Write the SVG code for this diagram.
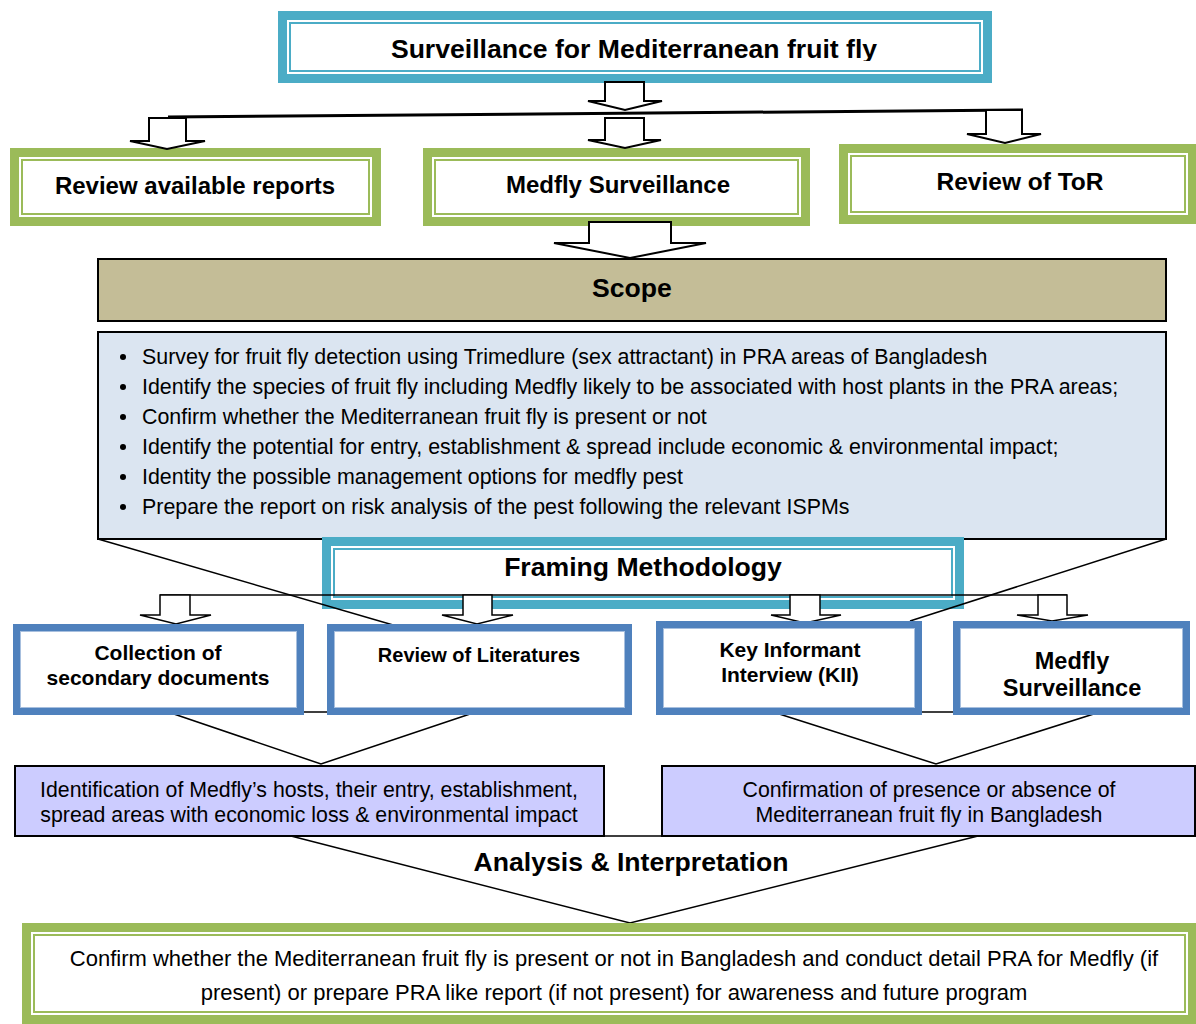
<svg xmlns="http://www.w3.org/2000/svg" width="1196" height="1024" viewBox="0 0 1196 1024">
<style>
.t{font-family:"Liberation Sans",Arial,Helvetica,sans-serif;fill:#000}
.b{font-weight:bold}
.c{text-anchor:middle}
.ln{fill:none;stroke:#000;stroke-width:1.5}
.arr{fill:#fff;stroke:#000;stroke-width:1.5;stroke-linejoin:miter}
.arr2{fill:#fff;stroke:#000;stroke-width:2;stroke-linejoin:miter}
.teal{fill:#4BACC6}
.tealL{fill:none;stroke:#4BACC6;stroke-width:2}
.green{fill:#9BBB59}
.greenL{fill:none;stroke:#9BBB59;stroke-width:2}
.blue{fill:#4F81BD}
.blueL{fill:none;stroke:#A7BFDE;stroke-width:1}
.w{fill:#fff}
.purple{fill:#CCCCFF;stroke:#000;stroke-width:2}
</style>
<defs>
<clipPath id="titleClip"><rect x="280" y="12" width="700" height="49"/></clipPath>
</defs>
<rect width="1196" height="1024" fill="#fff"/>

<g id="title">
<rect class="teal" x="278" y="11" width="714" height="72"/>
<rect class="w" x="287" y="20" width="696" height="54"/>
<rect class="tealL" x="290" y="23" width="690" height="48"/>
<text class="t b c" x="634" y="58" font-size="26.6" clip-path="url(#titleClip)">Surveillance for Mediterranean fruit fly</text>
</g>

<g id="review-reports">
<rect class="green" x="10" y="148" width="371" height="78"/>
<rect class="w" x="19" y="157" width="353" height="60"/>
<rect class="greenL" x="22" y="160" width="347" height="54"/>
<text class="t b c" x="195" y="194" font-size="24">Review available reports</text>
</g>

<g id="medfly-surveillance-1">
<rect class="green" x="423" y="148" width="387" height="78"/>
<rect class="w" x="432" y="157" width="369" height="60"/>
<rect class="greenL" x="435" y="160" width="363" height="54"/>
<text class="t b c" x="618" y="193" font-size="24">Medfly Surveillance</text>
</g>

<g id="review-tor">
<rect class="green" x="839" y="144" width="358" height="80"/>
<rect class="w" x="848" y="153" width="340" height="62"/>
<rect class="greenL" x="851" y="156" width="334" height="56"/>
<text class="t b c" x="1020" y="190" font-size="24.5">Review of ToR</text>
</g>

<g id="scope">
<rect x="98" y="259" width="1068" height="62" fill="#C4BD97" stroke="#000" stroke-width="2"/>
<text class="t b c" x="632" y="297" font-size="26.6">Scope</text>
</g>

<g id="scope-list">
<rect x="98" y="332" width="1068" height="207" fill="#DBE5F1" stroke="#000" stroke-width="2"/>
<g fill="#000">
<circle cx="123" cy="357" r="3"/>
<circle cx="123" cy="387" r="3"/>
<circle cx="123" cy="417" r="3"/>
<circle cx="123" cy="447" r="3"/>
<circle cx="123" cy="477" r="3"/>
<circle cx="123" cy="507" r="3"/>
</g>
<g class="t" font-size="21.4" fill="#1a1a1a">
<text x="142" y="364">Survey for fruit fly detection using Trimedlure (sex attractant) in PRA areas of Bangladesh</text>
<text x="142" y="394">Identify the species of fruit fly including Medfly likely to be associated with host plants in the PRA areas;</text>
<text x="142" y="424">Confirm whether the Mediterranean fruit fly is present or not</text>
<text x="142" y="454">Identify the potential for entry, establishment &amp; spread include economic &amp; environmental impact;</text>
<text x="142" y="484">Identity the possible management options for medfly pest</text>
<text x="142" y="514">Prepare the report on risk analysis of the pest following the relevant ISPMs</text>
</g>
</g>

<g id="framing">
<rect class="teal" x="322" y="537" width="642" height="72"/>
<rect class="w" x="331" y="546" width="624" height="54"/>
<rect class="tealL" x="334" y="549" width="618" height="48"/>
<text class="t b c" x="643" y="576" font-size="26.6">Framing Methodology</text>
</g>

<g id="connectors">
<polygon class="arr2" points="605,82 644,82 644,101 662,101 625,110 588,101 605,101"/>
<line x1="168" y1="117" x2="1023" y2="110" stroke="#000" stroke-width="3"/>
<polygon class="arr2" points="149,118 186,118 186,141 205,141 167,149 130,141 149,141"/>
<polygon class="arr2" points="605,118 644,118 644,140 661,140 625,148 588,140 605,140"/>
<polygon class="arr2" points="986,110 1022,110 1022,134 1041,134 1005,143 967,134 986,134"/>
<polygon class="arr2" points="589,222 671,222 671,243 706,243 630,258 554,243 589,243"/>
<line class="ln" x1="98" y1="539" x2="400" y2="627"/>
<line class="ln" x1="1166" y1="539" x2="910" y2="621"/>
<line class="ln" x1="160" y1="595" x2="1067" y2="595"/>
<polygon class="arr" points="160,595 190,595 190,615 211,615 176,624 140,615 160,615"/>
<polygon class="arr" points="463,595 492,595 492,615 513,615 477,624 442,615 463,615"/>
<polygon class="arr" points="790,595 820,595 820,615 841,615 805,623 771,615 790,615"/>
<polygon class="arr" points="1038,595 1067,595 1067,615 1088,615 1052,621 1017,615 1038,615"/>
<polygon class="ln" points="168,712 476,712 321,764"/>
<polygon class="ln" points="773,712 1100,712 936,764"/>
<polygon class="ln" points="291,836 978,836 630,923"/>
</g>

<g id="collection">
<rect class="blue" x="13" y="624" width="291" height="91"/>
<rect class="w" x="20" y="631" width="277" height="77"/>
<rect class="blueL" x="20.5" y="631.5" width="276" height="76"/>
<text class="t b c" x="158" y="660" font-size="21">Collection of</text>
<text class="t b c" x="158" y="685" font-size="21">secondary documents</text>
</g>

<g id="literatures">
<rect class="blue" x="327" y="624" width="305" height="91"/>
<rect class="w" x="334" y="631" width="291" height="77"/>
<rect class="blueL" x="334.5" y="631.5" width="290" height="76"/>
<text class="t b c" x="479" y="662" font-size="20">Review of Literatures</text>
</g>

<g id="kii">
<rect class="blue" x="656" y="621" width="266" height="94"/>
<rect class="w" x="663" y="628" width="252" height="80"/>
<rect class="blueL" x="663.5" y="628.5" width="251" height="79"/>
<text class="t b c" x="790" y="657" font-size="21">Key Informant</text>
<text class="t b c" x="790" y="682" font-size="21">Interview (KII)</text>
</g>

<g id="medfly-surveillance-2">
<rect class="blue" x="953" y="621" width="237" height="94"/>
<rect class="w" x="960" y="628" width="223" height="80"/>
<rect class="blueL" x="960.5" y="628.5" width="222" height="79"/>
<text class="t b c" x="1072" y="669" font-size="23.5">Medfly</text>
<text class="t b c" x="1072" y="696" font-size="23.5">Surveillance</text>
</g>

<g id="identification">
<rect class="purple" x="15" y="766" width="589" height="70"/>
<text class="t c" x="309" y="797" font-size="21.3">Identification of Medfly’s hosts, their entry, establishment,</text>
<text class="t c" x="309" y="822" font-size="21.3">spread areas with economic loss &amp; environmental impact</text>
</g>

<g id="confirmation">
<rect class="purple" x="662" y="766" width="533" height="70"/>
<text class="t c" x="929" y="797" font-size="21.3">Confirmation of presence or absence of</text>
<text class="t c" x="929" y="822" font-size="21.3">Mediterranean fruit fly in Bangladesh</text>
</g>

<g id="analysis-label">
<text class="t b c" x="631" y="871" font-size="26.6">Analysis &amp; Interpretation</text>
</g>

<g id="conclusion">
<rect class="green" x="22" y="923" width="1175" height="101"/>
<rect class="w" x="31" y="932" width="1157" height="83"/>
<rect class="greenL" x="34" y="935" width="1151" height="77"/>
<text class="t c" x="614" y="966" font-size="22">Confirm whether the Mediterranean fruit fly is present or not in Bangladesh and conduct detail PRA for Medfly (if</text>
<text class="t c" x="614" y="1000" font-size="22">present) or prepare PRA like report (if not present) for awareness and future program</text>
</g>
</svg>
